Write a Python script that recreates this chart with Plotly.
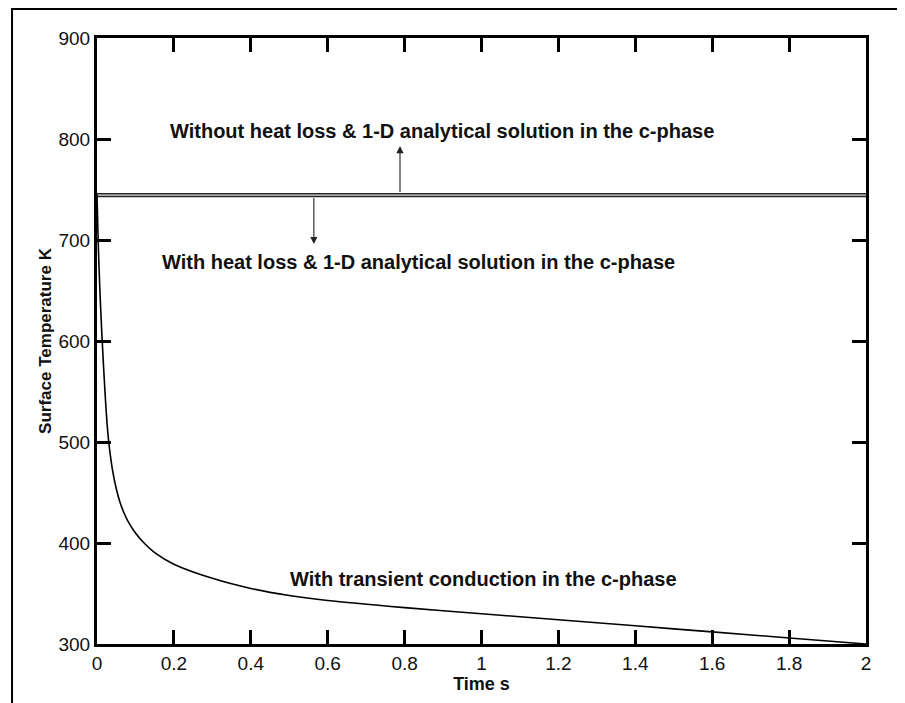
import plotly.graph_objects as go

# ---- data ----
time_s = [0, 0.003, 0.007, 0.012, 0.017, 0.022, 0.026, 0.03, 0.035, 0.04,
          0.05, 0.06, 0.07, 0.08, 0.1, 0.125, 0.15, 0.2, 0.3, 0.4,
          0.5, 0.6, 0.8, 1.0, 1.2, 1.4, 1.6, 1.8, 1.9, 2.0]
temp_transient = [745, 700, 655, 612, 575, 542, 519, 502, 486, 473,
                  454, 440, 430, 422, 410, 399, 390.5, 379, 365, 355,
                  348, 343, 336, 330, 324, 318, 312, 306, 303, 300]

line_time = [0, 2]
temp_no_loss = [746, 746]      # without heat loss
temp_mid = [744.5, 744.5]
temp_with_loss = [743, 743]    # with heat loss

x_ticks = [0, 0.2, 0.4, 0.6, 0.8, 1, 1.2, 1.4, 1.6, 1.8, 2]
x_tick_text = ["0", "0.2", "0.4", "0.6", "0.8", "1", "1.2", "1.4", "1.6", "1.8", "2"]
y_ticks = [300, 400, 500, 600, 700, 800, 900]

label_top = "Without heat loss & 1-D analytical solution in the c-phase"
label_mid = "With heat loss & 1-D analytical solution in the c-phase"
label_bot = "With transient conduction in the c-phase"

fig = go.Figure()
fig.add_trace(go.Scatter(x=line_time, y=temp_mid, mode="lines",
                         line=dict(color="#aaaaaa", width=2), showlegend=False))
fig.add_trace(go.Scatter(x=line_time, y=temp_no_loss, mode="lines",
                         line=dict(color="#222222", width=1.2), showlegend=False))
fig.add_trace(go.Scatter(x=line_time, y=temp_with_loss, mode="lines",
                         line=dict(color="#222222", width=1.2), showlegend=False))
fig.add_trace(go.Scatter(x=time_s, y=temp_transient, mode="lines",
                         line=dict(color="black", width=1.6, shape="spline", smoothing=0.8),
                         showlegend=False))

txt_font = dict(family="Liberation Sans, Arial, sans-serif", size=20, color="#111111")
fig.add_annotation(x=0.185, y=808, text="<b>%s</b>" % label_top, showarrow=False,
                   xanchor="left", font=txt_font, xref="x", yref="y")
fig.add_annotation(x=0.164, y=678, text="<b>%s</b>" % label_mid, showarrow=False,
                   xanchor="left", font=txt_font, xref="x", yref="y")
fig.add_annotation(x=0.497, y=364, text="<b>%s</b>" % label_bot, showarrow=False,
                   xanchor="left", font=txt_font, xref="x", yref="y")

# arrows
fig.add_annotation(x=0.788, y=793, ax=0.788, ay=746, axref="x", ayref="y",
                   xref="x", yref="y", text="", showarrow=True, arrowhead=2,
                   arrowsize=1.3, arrowwidth=1.1, arrowcolor="#222222")
fig.add_annotation(x=0.564, y=696, ax=0.564, ay=743, axref="x", ayref="y",
                   xref="x", yref="y", text="", showarrow=True, arrowhead=2,
                   arrowsize=1.3, arrowwidth=1.1, arrowcolor="#222222")

# outer frame
fig.add_shape(type="rect", xref="paper", yref="paper",
              x0=-0.1105, x1=1.0429, y0=-0.12, y1=1.0479,
              line=dict(color="black", width=2), fillcolor="rgba(0,0,0,0)", layer="below")

tick_font = dict(family="Liberation Sans, Arial, sans-serif", size=19, color="#111111")
fig.update_layout(
    width=897, height=695,
    margin=dict(l=89, r=39, t=30, b=59),
    paper_bgcolor="white", plot_bgcolor="white",
    xaxis=dict(range=[0, 2], tickvals=x_ticks, ticktext=x_tick_text,
               showgrid=False, zeroline=False, showline=True, linecolor="black",
               linewidth=3, mirror="ticks", ticks="inside", ticklen=14, tickwidth=3,
               tickcolor="black", tickfont=tick_font, automargin=False,
               title=dict(text="<b>Time s</b>", standoff=2,
                          font=dict(family="Liberation Sans, Arial, sans-serif", size=18, color="#111111"))),
    yaxis=dict(range=[300, 900], tickvals=y_ticks,
               showgrid=False, zeroline=False, showline=True, linecolor="black",
               linewidth=3, mirror="ticks", ticks="inside", ticklen=14, tickwidth=3,
               tickcolor="black", tickfont=tick_font, automargin=False,
               title=dict(text="<b>Surface Temperature K</b>", standoff=3,
                          font=dict(family="Liberation Sans, Arial, sans-serif", size=17, color="#111111"))),
)

fig.write_html("out.html")
